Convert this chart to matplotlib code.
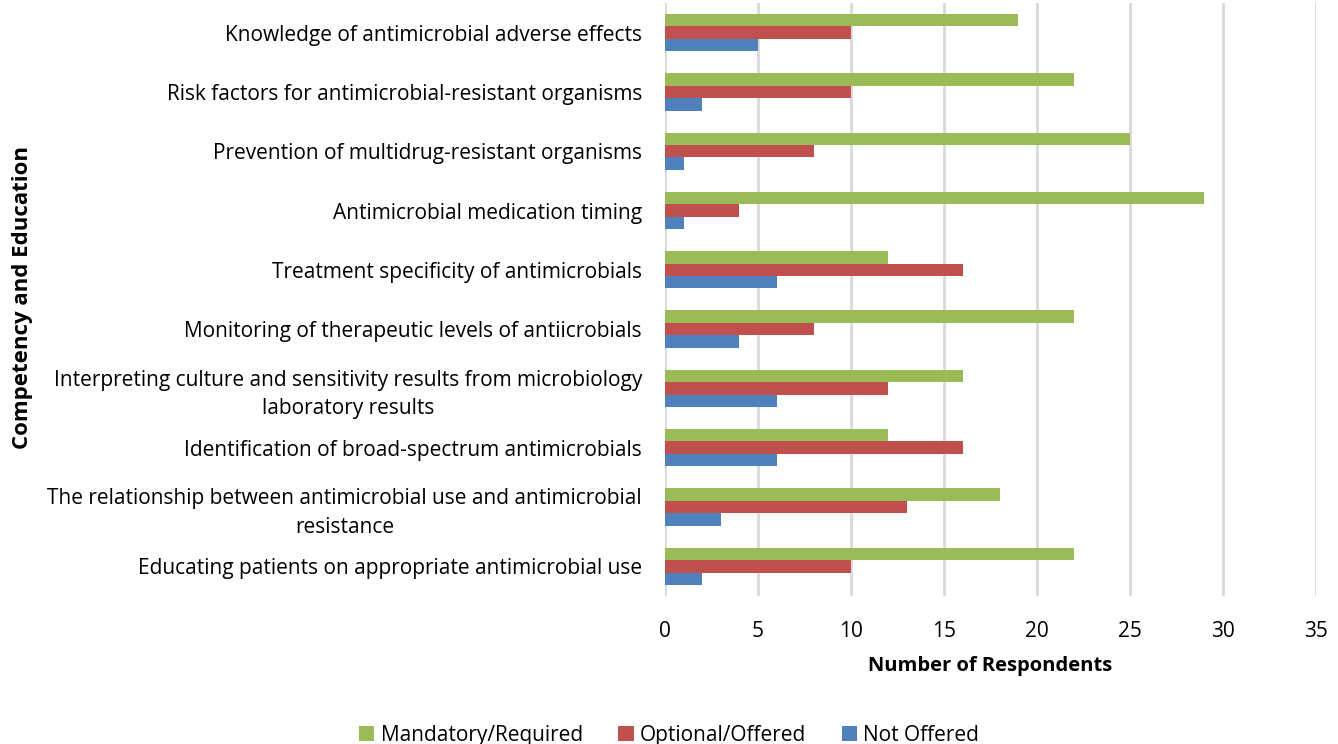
import matplotlib.pyplot as plt
import numpy as np

plt.rcParams['font.family'] = ['Open Sans', 'DejaVu Sans']

categories = [
    'Knowledge of antimicrobial adverse effects',
    'Risk factors for antimicrobial-resistant organisms',
    'Prevention of multidrug-resistant organisms',
    'Antimicrobial medication timing',
    'Treatment specificity of antimicrobials',
    'Monitoring of therapeutic levels of antiicrobials',
    'Interpreting culture and sensitivity results from microbiology\nlaboratory results',
    'Identification of broad-spectrum antimicrobials',
    'The relationship between antimicrobial use and antimicrobial\nresistance',
    'Educating patients on appropriate antimicrobial use',
]
mandatory = [19, 22, 25, 29, 12, 22, 16, 12, 18, 22]
optional = [10, 10, 8, 4, 16, 8, 12, 16, 13, 10]
not_offered = [5, 2, 1, 1, 6, 4, 6, 6, 3, 2]

series = [
    ('Mandatory/Required', mandatory, '#9BBB59'),
    ('Optional/Offered', optional, '#C0504D'),
    ('Not Offered', not_offered, '#4F81BD'),
]

fig = plt.figure(figsize=(13.38, 7.44), dpi=100)
ax = fig.add_axes([0.497, 0.199, 0.4866, 0.797])

y = np.arange(len(categories))
h = 0.21
for i, (name, vals, color) in enumerate(series):
    ax.barh(y + (i - 1) * h, vals, height=h, color=color, label=name, zorder=3)

ax.set_xlim(0, 35)
ax.set_xticks(range(0, 36, 5))
ax.set_ylim(len(categories) - 0.5, -0.5)
ax.set_yticks(y)
ax.set_yticklabels(categories, multialignment='center', linespacing=1.45)
ax.tick_params(axis='both', length=0, labelsize=15)
ax.tick_params(axis='y', pad=16.5)
ax.tick_params(axis='x', pad=18)
ax.grid(axis='x', color='#D9D9D9', linewidth=2, zorder=0)
for s in ax.spines.values():
    s.set_visible(False)

ax.set_xlabel('Number of Respondents', fontsize=14.5, fontweight='bold', labelpad=10)
fig.text(0.0165, 0.6, 'Competency and Education', rotation=90, fontsize=16,
         fontweight='bold', ha='center', va='center')

fig.legend(loc='lower center', bbox_to_anchor=(0.5, -0.028), ncol=3, frameon=False,
           fontsize=15, handlelength=0.75, handleheight=0.75, columnspacing=1.7,
           handletextpad=0.3)

fig.savefig('out.png', dpi=100)
